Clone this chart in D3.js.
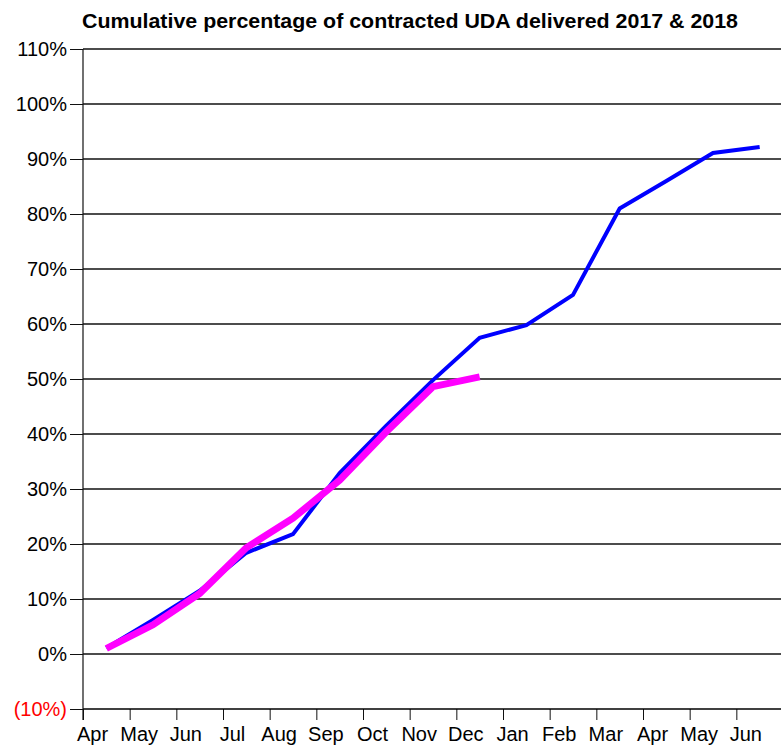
<!DOCTYPE html>
<html>
<head>
<meta charset="utf-8">
<script src="https://cdn.jsdelivr.net/npm/d3@7"></script>
<style>
  body { margin: 0; background: #fff; }
  svg { display: block; font-family: "Liberation Sans", Arial, sans-serif; }
</style>
</head>
<body>
<div id="chart"></div>
<script>
// Months along the x axis (Apr 2017 .. Jun 2018)
const months = ["Apr", "May", "Jun", "Jul", "Aug", "Sep", "Oct", "Nov", "Dec",
                "Jan", "Feb", "Mar", "Apr", "May", "Jun"];
// cumulative % of contracted UDA delivered
const series2017 = [1.1, 6.2, 11.5, 18.4, 21.8, 32.9, 41.5, 49.8, 57.5, 59.8, 65.3, 81.0, 86.0, 91.1, 92.2];
const series2018 = [1.0, 5.3, 11.0, 19.3, 24.7, 31.6, 40.4, 48.6, 50.4];
const yTicks = [-10, 0, 10, 20, 30, 40, 50, 60, 70, 80, 90, 100, 110];

const width = 781, height = 748;
const mLeft = 83, mRight = 783, mTop = 49, mBottom = 709;

const svg = d3.select("#chart").append("svg")
    .attr("width", width)
    .attr("height", height);

const x = d3.scaleBand()
    .domain(d3.range(months.length))
    .range([mLeft, mRight]);
const xTick = d3.scaleLinear()
    .domain([0, months.length])
    .range([mLeft, mRight]);
const y = d3.scaleLinear()
    .domain([-10, 110])
    .range([mBottom, mTop]);

// title
svg.append("text")
    .attr("x", 410)
    .attr("y", 28)
    .attr("text-anchor", "middle")
    .style("font-weight", "bold")
    .style("font-size", "21px")
    .attr("textLength", 656)
    .attr("lengthAdjust", "spacingAndGlyphs")
    .text("Cumulative percentage of contracted UDA delivered 2017 & 2018");

// y ticks + labels
const yAxis = d3.axisLeft(y)
    .tickValues(yTicks)
    .tickSize(13)
    .tickFormat(d => d < 0 ? `(${-d}%)` : `${d}%`);
svg.append("g")
    .attr("transform", `translate(${mLeft},0)`)
    .call(yAxis)
    .call(g => g.select(".domain").remove())
    .call(g => g.selectAll(".tick line").attr("stroke", "#111"))
    .call(g => g.selectAll(".tick text")
        .attr("x", -16)
        .style("font-size", "20px")
        .attr("fill", d => d < 0 ? "#ff0000" : "#000"));

// gridlines
svg.append("g")
    .selectAll("line")
    .data(yTicks.filter(d => d >= 0))
    .join("line")
      .attr("x1", mLeft)
      .attr("x2", width)
      .attr("y1", d => y(d))
      .attr("y2", d => y(d))
      .attr("stroke", "#111")
      .attr("stroke-width", 1.3);

// x axis
const xAxis = d3.axisBottom(xTick)
    .tickValues(d3.range(months.length))
    .tickSize(11)
    .tickFormat(i => months[i]);
svg.append("g")
    .attr("transform", `translate(0,${mBottom})`)
    .call(xAxis)
    .call(g => g.select(".domain").remove())
    .call(g => g.selectAll(".tick line").attr("stroke", "#111"))
    .call(g => g.selectAll(".tick text")
        .attr("dx", 9)
        .attr("y", 18)
        .style("font-size", "20px")
        .attr("fill", "#000"));

svg.append("line")
    .attr("x1", mLeft).attr("x2", width)
    .attr("y1", y(-10)).attr("y2", y(-10))
    .attr("stroke", "#000").attr("stroke-width", 1.5);
svg.append("line")
    .attr("x1", mLeft).attr("x2", mLeft)
    .attr("y1", mTop).attr("y2", mBottom + 11)
    .attr("stroke", "#111").attr("stroke-width", 1.2);

const line = d3.line()
    .x((d, i) => x(i) + x.bandwidth() / 2)
    .y(d => y(d));

svg.append("path")
    .datum(series2017)
    .attr("fill", "none")
    .attr("stroke", "#0000ff")
    .attr("stroke-width", 4)
    .attr("d", line);

svg.append("path")
    .datum(series2018)
    .attr("fill", "none")
    .attr("stroke", "#ff00ff")
    .attr("stroke-width", 7)
    .attr("d", line);
</script>
</body>
</html>
